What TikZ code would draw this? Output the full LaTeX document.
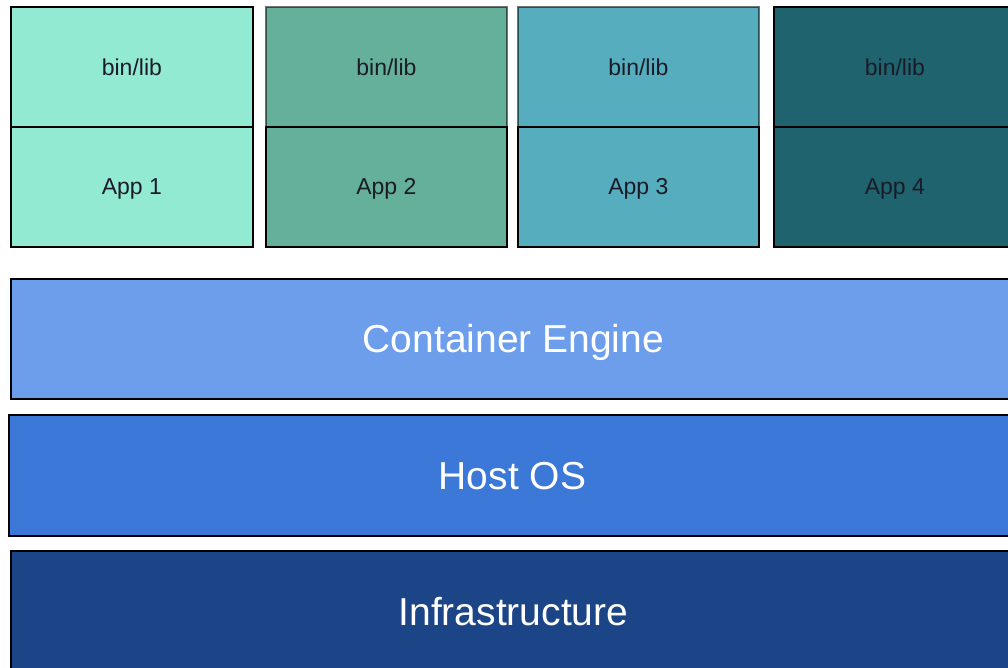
\documentclass[tikz,border=0pt]{standalone}
\usepackage{fontspec}
\setmainfont{Liberation Sans}
\definecolor{appA}{HTML}{93EAD2}
\definecolor{appB}{HTML}{65B09A}
\definecolor{appC}{HTML}{56ADBE}
\definecolor{appD}{HTML}{1E636E}
\definecolor{engine}{HTML}{6D9EEB}
\definecolor{hostos}{HTML}{3C78D8}
\definecolor{infra}{HTML}{1C4587}
\definecolor{smalltext}{HTML}{1B1B28}
\newcommand{\lowertext}[2]{\raisebox{-#1}[\height][\depth]{#2}}
\tikzset{
  cell/.style={draw=black, line width=1.8pt, rectangle, inner sep=0pt, anchor=north west,
    minimum height=120pt, text=smalltext, font=\fontsize{23}{26}\selectfont},
  soft/.style={draw opacity=0.55},
  layer/.style={draw=black, line width=1.8pt, rectangle, inner sep=0pt, anchor=north west,
    minimum width=1005pt, text=white, font=\fontsize{39}{42}\selectfont},
}
\begin{document}
\begin{tikzpicture}[x=1pt,y=-1pt]
\useasboundingbox (0,0) rectangle (1008,668);
\clip (0,0) rectangle (1008,668);
\fill[white] (0,0) rectangle (1008,668);
% app stacks
\node[cell, fill=appA, minimum width=242pt] (lib1) at (10,6) {bin/lib};
\node[cell, fill=appA, minimum width=242pt] (app1) at (10,126) {\lowertext{2pt}{App 1}};
\node[cell, fill=appB, minimum width=241pt, soft] (lib2) at (265,6) {bin/lib};
\node[cell, fill=appB, minimum width=241pt] (app2) at (265,126) {\lowertext{2pt}{App 2}};
\node[cell, fill=appC, minimum width=241pt, soft] (lib3) at (517,6) {bin/lib};
\node[cell, fill=appC, minimum width=241pt] (app3) at (517,126) {\lowertext{2pt}{App 3}};
\node[cell, fill=appD, minimum width=242pt] (lib4) at (773,6) {bin/lib};
\node[cell, fill=appD, minimum width=242pt] (app4) at (773,126) {\lowertext{2pt}{App 4}};
% layers
\node[layer, fill=engine, minimum height=120pt] (engine) at (10,278) {\lowertext{4pt}{Container Engine}};
\node[layer, fill=hostos, minimum height=121pt, minimum width=1007pt] (host) at (8,414) {\lowertext{1pt}{Host OS}};
\node[layer, fill=infra, minimum height=122pt] (infra) at (10,550) {Infrastructure};
\end{tikzpicture}
\end{document}
